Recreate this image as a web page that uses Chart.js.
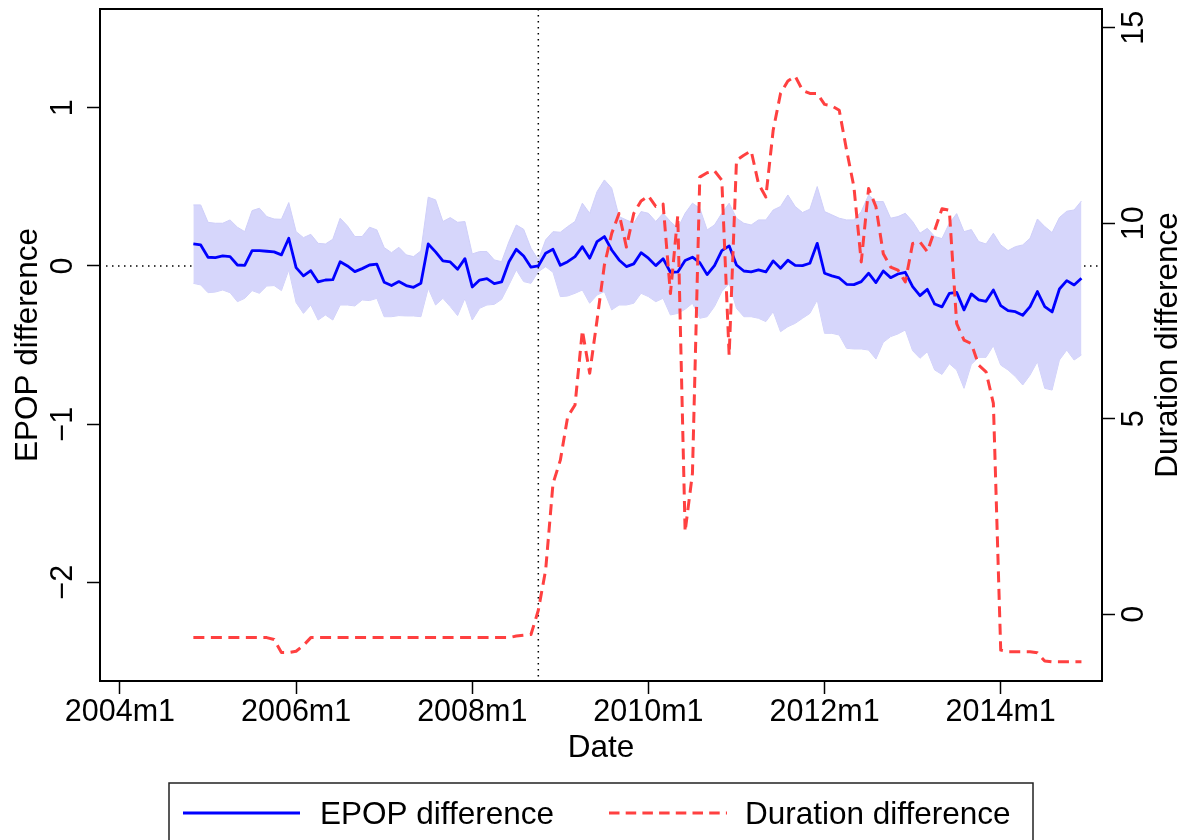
<!DOCTYPE html>
<html><head><meta charset="utf-8">
<script src="https://cdn.jsdelivr.net/npm/chart.js@4"></script>
<style>html,body{margin:0;padding:0;background:#fff}#wrap{width:1187px;height:840px;position:relative}</style>
</head><body><div id="wrap"><canvas id="c"></canvas></div>
<script>
const dates = [
 "2004m11","2004m12",
 "2005m1","2005m2","2005m3","2005m4","2005m5","2005m6","2005m7","2005m8","2005m9","2005m10","2005m11","2005m12",
 "2006m1","2006m2","2006m3","2006m4","2006m5","2006m6","2006m7","2006m8","2006m9","2006m10","2006m11","2006m12",
 "2007m1","2007m2","2007m3","2007m4","2007m5","2007m6","2007m7","2007m8","2007m9","2007m10","2007m11","2007m12",
 "2008m1","2008m2","2008m3","2008m4","2008m5","2008m6","2008m7","2008m8","2008m9","2008m10","2008m11","2008m12",
 "2009m1","2009m2","2009m3","2009m4","2009m5","2009m6","2009m7","2009m8","2009m9","2009m10","2009m11","2009m12",
 "2010m1","2010m2","2010m3","2010m4","2010m5","2010m6","2010m7","2010m8","2010m9","2010m10","2010m11","2010m12",
 "2011m1","2011m2","2011m3","2011m4","2011m5","2011m6","2011m7","2011m8","2011m9","2011m10","2011m11","2011m12",
 "2012m1","2012m2","2012m3","2012m4","2012m5","2012m6","2012m7","2012m8","2012m9","2012m10","2012m11","2012m12",
 "2013m1","2013m2","2013m3","2013m4","2013m5","2013m6","2013m7","2013m8","2013m9","2013m10","2013m11","2013m12",
 "2014m1","2014m2","2014m3","2014m4","2014m5","2014m6","2014m7","2014m8","2014m9","2014m10","2014m11","2014m12"
];
const epop = [
 0.139,0.133,0.055,0.053,0.063,0.059,0.006,0.004,0.097,0.097,
 0.093,0.089,0.070,0.175,-0.011,-0.063,-0.030,-0.101,-0.089,-0.087,
 0.027,0.000,-0.036,-0.017,0.006,0.011,-0.103,-0.124,-0.099,-0.124,
 -0.135,-0.110,0.139,0.089,0.032,0.025,-0.021,0.046,-0.133,-0.089,
 -0.080,-0.112,-0.101,0.027,0.105,0.063,-0.008,0.000,0.080,0.105,
 0.004,0.027,0.059,0.122,0.049,0.154,0.186,0.101,0.038,-0.004,
 0.013,0.084,0.049,0.002,0.046,-0.040,-0.038,0.034,0.055,0.021,
 -0.055,0.002,0.097,0.127,0.006,-0.032,-0.038,-0.025,-0.038,0.032,
 -0.015,0.036,0.004,0.002,0.017,0.143,-0.046,-0.063,-0.076,-0.116,
 -0.118,-0.099,-0.046,-0.105,-0.032,-0.074,-0.051,-0.040,-0.131,-0.188,
 -0.148,-0.241,-0.259,-0.173,-0.167,-0.278,-0.177,-0.215,-0.224,-0.152,
 -0.251,-0.283,-0.289,-0.312,-0.257,-0.162,-0.257,-0.291,-0.146,-0.093,
 -0.120,-0.078
];
const epopUpper = [
 0.386,0.386,0.276,0.270,0.270,0.291,0.245,0.217,0.350,0.365,
 0.312,0.297,0.295,0.401,0.217,0.179,0.200,0.143,0.139,0.169,
 0.302,0.253,0.186,0.186,0.245,0.228,0.116,0.084,0.118,0.070,
 0.059,0.095,0.435,0.418,0.281,0.306,0.276,0.281,0.076,0.091,
 0.091,0.038,0.027,0.154,0.259,0.232,0.112,0.038,0.165,0.217,
 0.213,0.249,0.281,0.397,0.333,0.470,0.544,0.492,0.312,0.291,
 0.270,0.344,0.333,0.281,0.333,0.281,0.238,0.333,0.397,0.365,
 0.228,0.259,0.333,0.397,0.302,0.270,0.259,0.291,0.291,0.354,
 0.376,0.449,0.376,0.338,0.359,0.502,0.344,0.323,0.302,0.291,
 0.291,0.344,0.449,0.407,0.407,0.302,0.312,0.333,0.281,0.207,
 0.238,0.186,0.173,0.270,0.331,0.217,0.230,0.154,0.139,0.207,
 0.133,0.097,0.122,0.133,0.175,0.297,0.249,0.211,0.306,0.346,
 0.354,0.411
];
const epopLower = [
 -0.110,-0.120,-0.169,-0.165,-0.152,-0.169,-0.226,-0.205,-0.156,-0.173,
 -0.127,-0.124,-0.156,-0.025,-0.232,-0.300,-0.247,-0.342,-0.310,-0.342,
 -0.247,-0.247,-0.253,-0.215,-0.219,-0.205,-0.321,-0.321,-0.314,-0.316,
 -0.316,-0.321,-0.141,-0.247,-0.205,-0.257,-0.314,-0.205,-0.342,-0.268,
 -0.247,-0.243,-0.211,-0.120,-0.025,-0.099,-0.110,-0.036,-0.005,-0.040,
 -0.194,-0.190,-0.173,-0.152,-0.236,-0.184,-0.162,-0.278,-0.247,-0.247,
 -0.236,-0.173,-0.194,-0.226,-0.205,-0.310,-0.300,-0.274,-0.236,-0.331,
 -0.321,-0.257,-0.162,-0.110,-0.268,-0.321,-0.321,-0.331,-0.352,-0.289,
 -0.416,-0.384,-0.363,-0.331,-0.300,-0.215,-0.426,-0.426,-0.437,-0.521,
 -0.525,-0.525,-0.532,-0.589,-0.483,-0.447,-0.430,-0.405,-0.536,-0.584,
 -0.542,-0.658,-0.686,-0.618,-0.658,-0.774,-0.622,-0.578,-0.578,-0.504,
 -0.627,-0.658,-0.700,-0.753,-0.690,-0.605,-0.774,-0.785,-0.595,-0.532,
 -0.595,-0.563
];
const duration = [
 -0.60,-0.60,-0.60,-0.60,-0.60,-0.60,-0.60,-0.60,-0.60,-0.60,
 -0.60,-0.65,-0.98,-0.98,-0.95,-0.80,-0.60,-0.60,-0.60,-0.60,
 -0.60,-0.60,-0.60,-0.60,-0.60,-0.60,-0.60,-0.60,-0.60,-0.60,
 -0.60,-0.60,-0.60,-0.60,-0.60,-0.60,-0.60,-0.60,-0.60,-0.60,
 -0.60,-0.60,-0.60,-0.60,-0.56,-0.54,-0.52,0.10,1.13,3.34,
 3.94,5.05,5.35,7.26,6.16,7.52,8.93,9.74,10.25,9.39,
 10.25,10.57,10.70,10.43,10.49,8.20,10.20,2.11,3.60,11.18,
 11.29,11.34,11.10,6.62,11.61,11.74,11.85,11.01,10.67,12.38,
 13.32,13.64,13.76,13.40,13.32,13.32,13.04,13.00,12.89,11.87,
 10.93,9.01,10.89,10.42,9.22,8.88,8.80,8.50,9.48,9.52,
 9.27,9.82,10.37,10.33,7.43,7.01,6.92,6.37,6.20,5.39,
 -0.92,-0.96,-0.96,-0.96,-0.96,-0.99,-1.20,-1.22,-1.22,-1.22,
 -1.22,-1.22
];
const xTickLabels = ["2004m1","2006m1","2008m1","2010m1","2012m1","2014m1"];
const yLeftTicks = [-2,-1,0,1];
const yRightTicks = [0,5,10,15];
const eventDate = "2008m10";
const seriesNames = ["EPOP difference","Duration difference"];

const FONT = '"Liberation Sans", Arial, Helvetica, sans-serif';
function mIdx(s){const p=s.split('m');return (+p[0]-2004)*12+(+p[1]-1);}
const pts = arr => arr.map((v,i)=>({x:mIdx(dates[i]),y:v}));
function fmt(v){return v<0?'\u2212'+Math.abs(v):String(v);}
function rotText(ctx,txt,x,y){ctx.save();ctx.translate(x,y);ctx.rotate(-Math.PI/2);ctx.textAlign='center';ctx.textBaseline='alphabetic';ctx.fillText(txt,0,0);ctx.restore();}

const tickGrid = {display:true,drawOnChartArea:false,drawTicks:true,tickLength:13,tickColor:'#000',tickWidth:1.5};

const deco = {
  id:'deco',
  beforeDatasetsDraw(chart){
    const {ctx,chartArea:a,scales} = chart;
    const py = scales.y.getPixelForValue(0);
    ctx.save();
    ctx.setLineDash([1.5,4.5]); ctx.lineWidth=1.5; ctx.strokeStyle='#000';
    ctx.beginPath(); ctx.moveTo(a.left+6,py); ctx.lineTo(a.right,py); ctx.stroke();
    ctx.restore();
  },
  afterDatasetDraw(chart,args){
    if(args.index!==2) return;
    const {ctx,chartArea:a,scales} = chart;
    const px = scales.x.getPixelForValue(mIdx(eventDate));
    ctx.save();
    ctx.setLineDash([1.5,4.5]); ctx.lineWidth=1.5; ctx.strokeStyle='#000';
    ctx.beginPath(); ctx.moveTo(px,a.top); ctx.lineTo(px,a.bottom); ctx.stroke();
    ctx.restore();
  },
  afterDraw(chart){
    const {ctx,chartArea:a,scales} = chart;
    ctx.save();
    ctx.lineWidth=2; ctx.strokeStyle='#000'; ctx.setLineDash([]);
    ctx.strokeRect(a.left,a.top,a.right-a.left,a.bottom-a.top);
    ctx.fillStyle='#000';
    ctx.font='30.5px '+FONT;
    yLeftTicks.forEach(v=>rotText(ctx,fmt(v),71.5,scales.y.getPixelForValue(v)));
    yRightTicks.forEach(v=>rotText(ctx,fmt(v),1143,scales.y2.getPixelForValue(v)));
    ctx.font='31.5px '+FONT;
    const cy=(a.top+a.bottom)/2;
    rotText(ctx,seriesNames[0],37,cy);
    rotText(ctx,seriesNames[1],1177,cy);
    ctx.textAlign='center'; ctx.textBaseline='alphabetic';
    ctx.fillText('Date',(a.left+a.right)/2,757);
    // legend
    ctx.lineWidth=1.5; ctx.strokeStyle='#222';
    ctx.strokeRect(169,783,864,90);
    ctx.lineWidth=3; ctx.strokeStyle='#0000ff';
    ctx.beginPath(); ctx.moveTo(183,813); ctx.lineTo(300,813); ctx.stroke();
    ctx.strokeStyle='#ff4040'; ctx.setLineDash([10.5,6.2]);
    ctx.beginPath(); ctx.moveTo(609,813); ctx.lineTo(727,813); ctx.stroke();
    ctx.setLineDash([]);
    ctx.textAlign='left';
    ctx.fillText(seriesNames[0],320,823.5);
    ctx.fillText(seriesNames[1],745,823.5);
    ctx.restore();
  }
};

new Chart(document.getElementById('c'),{
  type:'line',
  data:{datasets:[
    {label:seriesNames[1],data:pts(duration),yAxisID:'y2',borderColor:'#ff4040',borderWidth:3,borderDash:[11,6.5],borderJoinStyle:'round',fill:false,order:0},
    {label:seriesNames[0],data:pts(epop),yAxisID:'y',borderColor:'#0000ff',borderWidth:2.8,borderJoinStyle:'round',fill:false,order:1},
    {label:'upper',data:pts(epopUpper),yAxisID:'y',borderColor:'#cfcff9',borderWidth:1,backgroundColor:'#d6d6fb',fill:'+1',order:2},
    {label:'lower',data:pts(epopLower),yAxisID:'y',borderColor:'#cfcff9',borderWidth:1,fill:false,order:3}
  ]},
  options:{
    responsive:true,maintainAspectRatio:false,animation:false,
    layout:{padding:{top:9,left:0,right:0,bottom:0}},
    plugins:{legend:{display:false},tooltip:{enabled:false}},
    elements:{point:{radius:0},line:{tension:0}},
    scales:{
      x:{type:'linear',position:'bottom',min:-2.72,max:133.8,
        afterBuildTicks(s){s.ticks=xTickLabels.map(l=>({value:mIdx(l)}));},
        ticks:{autoSkip:false,maxRotation:0,minRotation:0,padding:0,color:'#000',font:{family:FONT,size:30.5},
          callback:(v)=>{const l=xTickLabels.find(t=>mIdx(t)===v);return l||'';}},
        grid:tickGrid,border:{display:false},
        afterFit(s){s.height=159;}},
      y:{position:'left',min:-2.625,max:1.625,
        afterBuildTicks(s){s.ticks=yLeftTicks.map(v=>({value:v}));},
        ticks:{display:false},grid:tickGrid,border:{display:false},
        afterFit(s){s.width=100;}},
      y2:{position:'right',min:-1.71,max:15.48,
        afterBuildTicks(s){s.ticks=yRightTicks.map(v=>({value:v}));},
        ticks:{display:false},grid:tickGrid,border:{display:false},
        afterFit(s){s.width=85;}}
    }
  },
  plugins:[deco]
});
</script></body></html>
